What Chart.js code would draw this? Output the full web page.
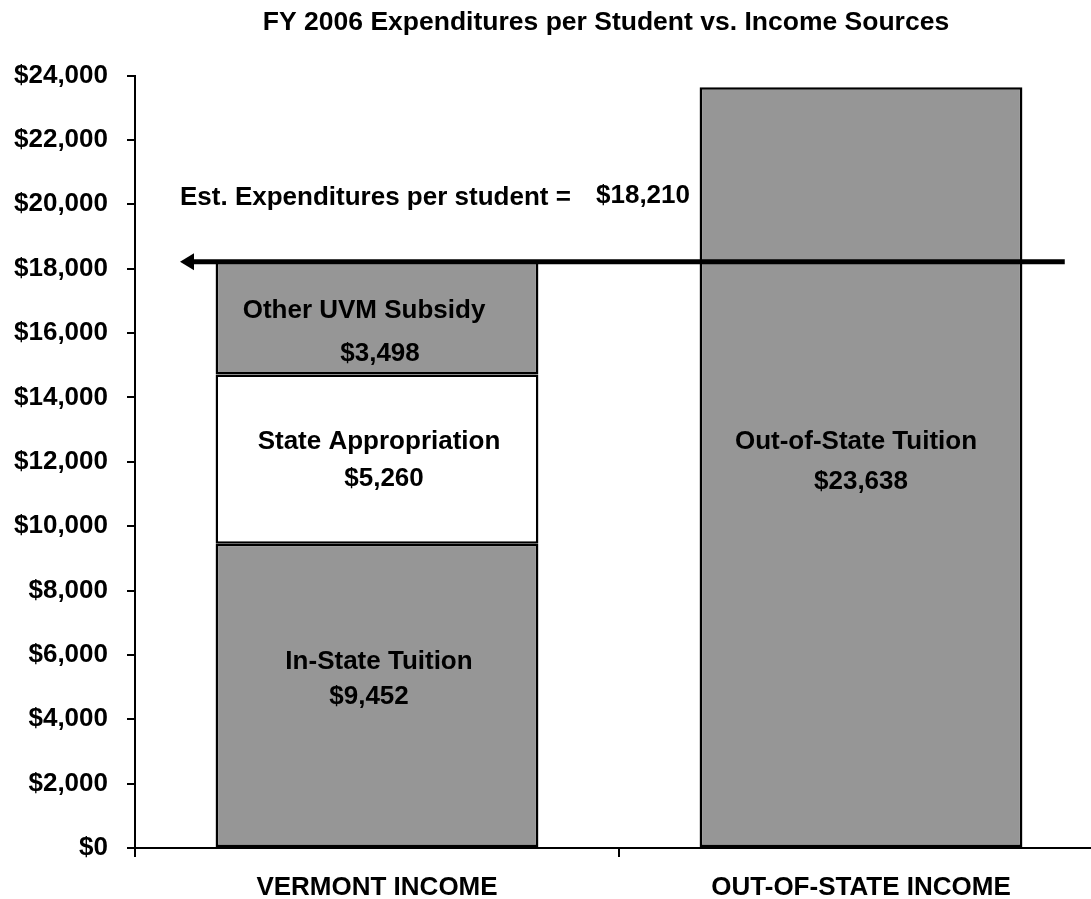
<!DOCTYPE html>
<html>
<head>
<meta charset="utf-8">
<script src="https://cdn.jsdelivr.net/npm/chart.js@4"></script>
<style>
    html, body { margin: 0; padding: 0; background: #fff; overflow: hidden; }
    #wrap { width: 1110px; height: 899px; }
</style>
</head>
<body>
<div id="wrap"><canvas id="chart" width="1110" height="899"></canvas></div>
<script>
// Chart data
const categories = ['VERMONT INCOME', 'OUT-OF-STATE INCOME'];
const inStateTuition = [9452, null];
const stateAppropriation = [5260, null];
const otherUvmSubsidy = [3498, null];
const outOfStateTuition = [null, 23638];
const segmentNames = ['In-State Tuition', 'State Appropriation', 'Other UVM Subsidy', 'Out-of-State Tuition'];
const expendituresPerStudent = 18210;
const expendituresLabel = 'Est. Expenditures per student =';
const chartTitle = 'FY 2006 Expenditures per Student vs. Income Sources';
const yMin = 0;
const yMax = 24000;
const yStep = 2000;

const FONT = 'Liberation Sans, Arial, sans-serif';
const GRAY = '#969696';

function money(v) {
    return '$' + v.toLocaleString('en-US');
}

// label nudges (px) relative to the middle of each bar segment: [name dx, name dy, value dx, value dy]
const labelNudge = [
    [2, -34, -8, 1],
    [2, -17, 7, 20],
    [-13, -7, 3, 36],
    [-5, -25, 0, 15]
];

// Title, drawn a bit left of the plot centre like the original
const titlePlugin = {
    id: 'titlePlugin',
    afterDraw(chart) {
        const ctx = chart.ctx;
        const area = chart.chartArea;
        ctx.save();
        ctx.fillStyle = '#000';
        ctx.font = 'bold 26.5px ' + FONT;
        ctx.textAlign = 'center';
        ctx.textBaseline = 'middle';
        ctx.fillText(chartTitle, (area.left + area.right) / 2 - 13, 23);
        ctx.restore();
    }
};

// Text inside the bars
const barLabels = {
    id: 'barLabels',
    afterDatasetsDraw(chart) {
        const ctx = chart.ctx;
        ctx.save();
        ctx.fillStyle = '#000';
        ctx.font = 'bold 26px ' + FONT;
        ctx.textAlign = 'center';
        ctx.textBaseline = 'middle';
        chart.data.datasets.forEach((ds, i) => {
            const meta = chart.getDatasetMeta(i);
            ds.data.forEach((v, j) => {
                if (v === null) return;
                const bar = meta.data[j];
                const cx = bar.x;
                const cy = (bar.y + bar.base) / 2;
                const n = labelNudge[i];
                ctx.fillText(segmentNames[i], cx + n[0], cy + n[1]);
                ctx.fillText(money(v), cx + n[2], cy + n[3]);
            });
        });
        ctx.restore();
    }
};

// Expenditure arrow line with its caption
const expenditureArrow = {
    id: 'expenditureArrow',
    afterDatasetsDraw(chart) {
        const ctx = chart.ctx;
        const x = chart.scales.x;
        const y = chart.scales.y;
        const lineY = y.getPixelForValue(expendituresPerStudent);
        const tipX = x.getPixelForValue(-0.407);
        const endX = x.getPixelForValue(1.421);
        ctx.save();
        ctx.strokeStyle = '#000';
        ctx.fillStyle = '#000';
        ctx.lineWidth = 5;
        ctx.beginPath();
        ctx.moveTo(tipX + 10, lineY);
        ctx.lineTo(endX, lineY);
        ctx.stroke();
        ctx.beginPath();
        ctx.moveTo(tipX, lineY);
        ctx.lineTo(tipX + 14, lineY - 8.5);
        ctx.lineTo(tipX + 14, lineY + 8.5);
        ctx.closePath();
        ctx.fill();

        ctx.font = 'bold 26px ' + FONT;
        ctx.textAlign = 'left';
        ctx.textBaseline = 'middle';
        ctx.fillText(expendituresLabel, tipX, lineY - 64);
        ctx.fillText(money(expendituresPerStudent), tipX + 416, lineY - 66);
        ctx.restore();
    }
};

const ctx = document.getElementById('chart').getContext('2d');
const chart = new Chart(ctx, {
    type: 'bar',
    data: {
        labels: categories,
        datasets: [
            { label: segmentNames[0], data: inStateTuition, backgroundColor: GRAY },
            { label: segmentNames[1], data: stateAppropriation, backgroundColor: '#ffffff' },
            { label: segmentNames[2], data: otherUvmSubsidy, backgroundColor: GRAY },
            { label: segmentNames[3], data: outOfStateTuition, backgroundColor: GRAY }
        ].map(d => Object.assign(d, {
            borderColor: '#000',
            borderWidth: 2.5,
            borderSkipped: false,
            barPercentage: 0.667,
            categoryPercentage: 1
        }))
    },
    options: {
        responsive: false,
        animation: false,
        devicePixelRatio: 1,
        layout: { padding: { left: 0, right: 7, top: 75.5, bottom: 0 } },
        plugins: {
            legend: { display: false },
            tooltip: { enabled: false },
            title: { display: false }
        },
        scales: {
            x: {
                stacked: true,
                offset: true,
                grid: {
                    offset: true,
                    drawOnChartArea: false,
                    tickLength: 9,
                    color: '#000',
                    lineWidth: 2
                },
                border: { color: '#000', width: 2 },
                ticks: {
                    color: '#000',
                    padding: 15,
                    maxRotation: 0,
                    font: { family: FONT, size: 26, weight: 'bold' }
                },
                afterFit(scale) { scale.height = 51; }
            },
            y: {
                stacked: true,
                min: yMin,
                max: yMax,
                grid: {
                    drawOnChartArea: false,
                    tickLength: 8,
                    color: '#000',
                    lineWidth: 2
                },
                border: { color: '#000', width: 2 },
                ticks: {
                    stepSize: yStep,
                    color: '#000',
                    padding: 19,
                    font: { family: FONT, size: 26, weight: 'bold' },
                    callback: v => money(v)
                },
                afterFit(scale) { scale.width = 135; }
            }
        }
    },
    plugins: [barLabels, expenditureArrow, titlePlugin]
});
</script>
</body>
</html>
